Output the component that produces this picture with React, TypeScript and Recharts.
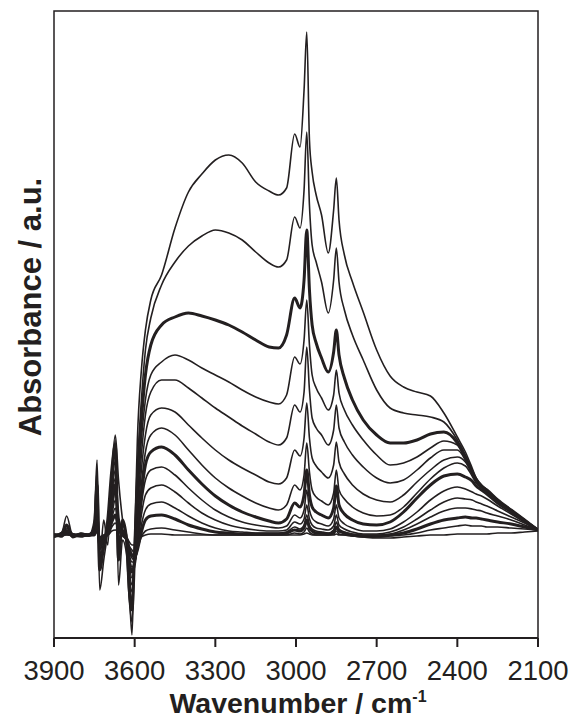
import { LineChart, Line, XAxis, YAxis, ReferenceArea } from "recharts";

// wavenumber grid (cm-1), shared by all spectra
const WAVENUMBERS = [
  3900, 3870, 3853, 3830, 3800, 3770, 3750, 3740, 3730, 3715, 3700, 3685, 3672,
  3660, 3645, 3630, 3620, 3610, 3600, 3590, 3575, 3560, 3540, 3500, 3450, 3400,
  3350, 3300, 3250, 3200, 3150, 3100, 3065, 3035, 3005, 2985, 2970, 2960, 2950,
  2940, 2925, 2905, 2880, 2860, 2850, 2840, 2820, 2790, 2750, 2700, 2650, 2600,
  2550, 2500, 2450, 2400, 2370, 2345, 2330, 2310, 2290, 2250, 2200, 2150, 2100,
];

// absorbance (mAU, arbitrary offset) for each spectrum, top to bottom
const SPEC_01 = [-2, 3, 19, -1, 2, 0, 15, 75, -25, 15, -10, 65, 100, 55, 15, -10, -55, -100, -5, 95, 165, 205, 235, 260, 307, 343, 361, 375, 380, 372, 353, 344, 340, 347, 401, 388, 445, 503, 395, 363, 340, 320, 282, 325, 357, 315, 280, 253, 223, 185, 159, 148, 143, 139, 122, 98, 83, 67, 57, 50, 45, 35, 25, 15, 5];
const SPEC_02 = [0, -1, 7, 1, -1, -1, 10, 65, -55, -25, 5, 55, 95, -50, -5, -20, -65, -87, -10, 65, 135, 185, 217, 250, 273, 289, 299, 305, 302, 295, 283, 272, 268, 275, 318, 307, 345, 403, 330, 290, 273, 253, 222, 255, 287, 253, 225, 200, 175, 145, 127, 122, 120, 118, 113, 95, 80, 65, 57, 50, 45, 35, 25, 15, 5];
const SPEC_03 = [-1, 2, 10, -2, 1, 0, 7, 50, -35, -10, 15, 65, 90, -25, 15, -5, -55, -75, -15, 55, 115, 160, 190, 210, 218, 222, 219, 215, 210, 203, 195, 188, 187, 200, 237, 227, 255, 305, 245, 210, 192, 177, 163, 183, 205, 180, 157, 135, 115, 100, 92, 92, 95, 101, 103, 92, 77, 63, 55, 49, 45, 35, 25, 15, 5];
const SPEC_04 = [1, -2, 5, 0, -2, 1, 5, 35, -25, -15, 10, 55, 85, -5, 10, 0, -45, -65, -20, 30, 95, 135, 160, 173, 180, 175, 167, 160, 153, 145, 138, 133, 131, 140, 178, 171, 195, 235, 190, 160, 147, 137, 125, 140, 165, 142, 125, 110, 95, 80, 70, 72, 78, 87, 94, 90, 77, 63, 55, 49, 45, 35, 25, 15, 5];
const SPEC_05 = [-2, 1, 4, -1, 1, 0, 3, 30, -20, -10, 5, 45, 75, 5, 5, -3, -40, -57, -23, 20, 80, 120, 143, 155, 155, 147, 137, 127, 118, 109, 101, 93, 90, 97, 130, 123, 143, 188, 145, 117, 107, 100, 90, 105, 130, 107, 93, 80, 68, 57, 52, 55, 65, 77, 85, 85, 75, 62, 54, 48, 44, 34, 24, 15, 5];
const SPEC_06 = [0, -1, 5, 1, -1, 0, 3, 25, -15, -5, 3, 40, 65, 10, 3, -5, -35, -50, -25, 10, 65, 100, 120, 127, 123, 110, 97, 85, 75, 67, 60, 53, 51, 57, 85, 79, 97, 132, 97, 77, 69, 63, 57, 70, 93, 73, 61, 50, 41, 35, 33, 40, 53, 65, 75, 78, 73, 61, 53, 48, 44, 34, 24, 15, 5];
const SPEC_07 = [-1, 1, 3, -1, 1, -1, 2, 20, -13, -5, 3, 35, 57, 13, 5, -5, -30, -43, -27, 0, 50, 83, 100, 107, 100, 85, 70, 57, 47, 39, 32, 27, 25, 30, 50, 45, 60, 92, 63, 45, 38, 34, 30, 42, 65, 45, 36, 28, 22, 19, 20, 28, 42, 56, 67, 72, 69, 59, 52, 47, 43, 33, 23, 14, 5];
const SPEC_08 = [0, 0, 4, 0, 0, 0, 2, 17, -10, -3, 2, 30, 50, 15, 3, -5, -27, -37, -28, -5, 40, 70, 83, 88, 80, 65, 51, 39, 30, 23, 18, 14, 12, 16, 32, 28, 40, 65, 40, 28, 23, 20, 17, 27, 49, 30, 21, 15, 11, 10, 13, 23, 37, 50, 59, 61, 58, 54, 49, 45, 41, 32, 23, 14, 5];
const SPEC_09 = [-2, 0, 3, -2, 1, 0, 1, 15, -8, -2, 3, 25, 43, 15, 2, -5, -23, -32, -28, -10, 30, 55, 65, 68, 60, 47, 35, 25, 18, 13, 10, 8, 7, 9, 20, 17, 25, 45, 25, 17, 13, 11, 9, 16, 30, 17, 11, 7, 4, 4, 6, 13, 23, 35, 44, 48, 46, 43, 41, 39, 36, 29, 21, 13, 5];
const SPEC_10 = [1, -1, 2, 1, -1, 0, 1, 12, -6, -2, 2, 20, 35, 13, 1, -5, -20, -27, -27, -13, 20, 40, 47, 50, 43, 32, 22, 15, 10, 7, 5, 4, 4, 5, 13, 11, 16, 30, 16, 10, 7, 6, 5, 9, 20, 10, 6, 3, 1, 1, 3, 8, 16, 25, 33, 37, 36, 35, 33, 31, 29, 24, 18, 12, 5];
const SPEC_11 = [-1, 1, 2, -1, 0, 0, 1, 10, -5, -2, 1, 17, 27, 10, 0, -5, -17, -23, -25, -15, 10, 25, 31, 33, 27, 19, 12, 7, 4, 3, 2, 2, 2, 3, 8, 6, 10, 20, 10, 6, 4, 3, 2, 5, 13, 6, 3, 1, 0, 0, 1, 5, 11, 18, 24, 27, 27, 26, 25, 24, 22, 19, 15, 10, 5];
const SPEC_12 = [0, 0, 1, 0, 0, 0, 0, 8, -5, -1, 1, 13, 20, 8, 0, -4, -14, -20, -22, -15, 3, 15, 19, 20, 16, 10, 6, 3, 2, 1, 1, 1, 1, 2, 5, 4, 7, 15, 7, 4, 2, 2, 1, 3, 8, 4, 2, 0, -1, -1, 0, 2, 6, 11, 15, 17, 18, 17, 17, 16, 15, 13, 11, 8, 5];
const SPEC_13 = [-1, 0, 1, -1, 0, 0, 0, 5, -3, -1, 0, 8, 12, 5, 0, -3, -11, -15, -18, -13, -2, 4, 6, 7, 5, 3, 1, 0, 0, 0, 0, 0, 0, 0, 2, 1, 3, 7, 3, 1, 0, 0, 0, 1, 4, 1, 0, -1, -2, -2, -1, 0, 2, 5, 7, 9, 10, 9, 9, 9, 8, 8, 7, 6, 5];
const SPEC_14 = [0, 0, 0, 0, 0, 0, 0, 3, -2, 0, 0, 4, 5, 3, 0, -2, -7, -10, -10, -7, -2, 0, 1, 1, 0, 0, 0, 0, 0, 0, 0, 0, 0, 0, 0, 0, 1, 2, 1, 0, 0, 0, 0, 0, 1, 0, 0, -1, -2, -3, -3, -2, -1, 0, 0, 1, 1, 1, 1, 1, 1, 2, 2, 3, 4];

const X_TICKS = [3900, 3600, 3300, 3000, 2700, 2400, 2100];

const SERIES = [
  { key: "s01", values: SPEC_01, bold: false },
  { key: "s02", values: SPEC_02, bold: false },
  { key: "s03", values: SPEC_03, bold: true },
  { key: "s04", values: SPEC_04, bold: false },
  { key: "s05", values: SPEC_05, bold: false },
  { key: "s06", values: SPEC_06, bold: false },
  { key: "s07", values: SPEC_07, bold: false },
  { key: "s08", values: SPEC_08, bold: true },
  { key: "s09", values: SPEC_09, bold: false },
  { key: "s10", values: SPEC_10, bold: false },
  { key: "s11", values: SPEC_11, bold: false },
  { key: "s12", values: SPEC_12, bold: true },
  { key: "s13", values: SPEC_13, bold: false },
  { key: "s14", values: SPEC_14, bold: false },
];

const rows = WAVENUMBERS.map((wn, i) => {
  const row: Record<string, number> = { wn };
  for (const s of SERIES) row[s.key] = s.values[i];
  return row;
});

const INK = "#231f20";
const FONT = "'Liberation Sans', Arial, sans-serif";

function WaveTick({ x, payload }: any) {
  return (
    <text x={x} y={680} textAnchor="middle" fontSize={27.5} fontFamily={FONT} fill={INK}>
      {payload.value}
    </text>
  );
}

// both axis titles drawn together (y title would not show on a zero-width YAxis)
function AxisTitles() {
  return (
    <g>
      <text x={298} y={713} textAnchor="middle" fontSize={28.5} fontWeight="bold" fontFamily={FONT} fill={INK}>
        Wavenumber / cm
        <tspan dy={-11} fontSize={16}>-1</tspan>
      </text>
      <text
        transform="rotate(-90)"
        x={-307}
        y={41}
        textAnchor="middle"
        fontSize={31}
        fontWeight="bold"
        fontFamily={FONT}
        fill={INK}
      >
        Absorbance / a.u.
      </text>
    </g>
  );
}

export default function App() {
  return (
    <div style={{ position: "absolute", left: 0, top: 0, width: 574, height: 720, background: "#fff" }}>
      <LineChart width={574} height={720} data={rows} margin={{ top: 11, right: 36, bottom: 0, left: 54 }}>
        <XAxis
          dataKey="wn"
          type="number"
          domain={[2100, 3900]}
          reversed
          allowDataOverflow
          ticks={X_TICKS}
          interval={0}
          tickSize={9}
          height={82}
          stroke={INK}
          strokeWidth={2}
          tick={<WaveTick />}
          label={<AxisTitles />}
        />
        <YAxis
          type="number"
          domain={[-103, 524]}
          allowDataOverflow
          width={0}
          tick={false}
          tickLine={false}
          stroke={INK}
          strokeWidth={2}
        />
        <ReferenceArea x1={3900} x2={2100} y1={-103} y2={524} fill="none" stroke={INK} strokeWidth={1.5} ifOverflow="extendDomain" />
        {SERIES.map((s) => (
          <Line
            key={s.key}
            dataKey={s.key}
            type="monotone"
            stroke={INK}
            strokeWidth={s.bold ? 3 : 1.6}
            dot={false}
            activeDot={false}
            isAnimationActive={false}
          />
        ))}
      </LineChart>
    </div>
  );
}
